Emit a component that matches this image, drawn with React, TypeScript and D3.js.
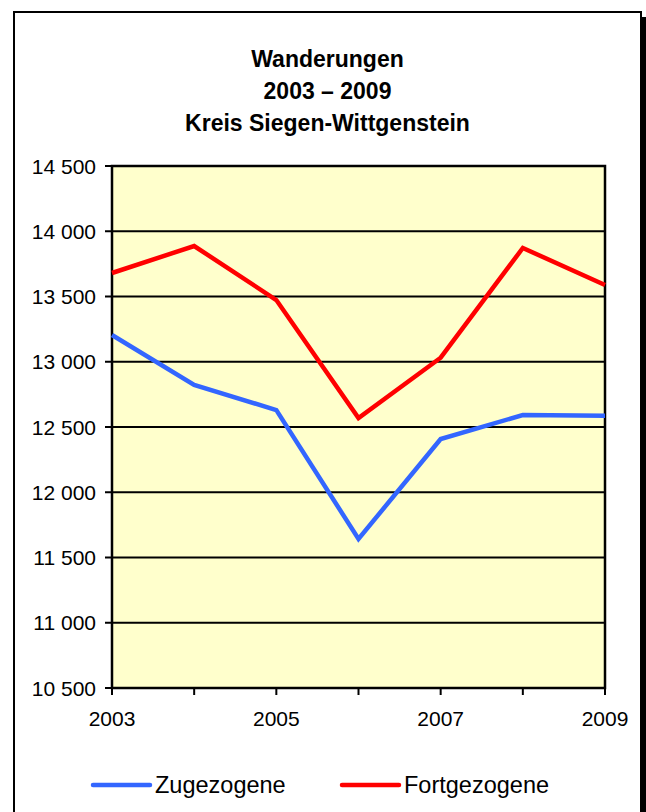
import * as d3 from "d3"

const years = [2003, 2004, 2005, 2006, 2007, 2008, 2009]
const zugezogene = [13205, 12822, 12630, 11642, 12408, 12592, 12587]
const fortgezogene = [13680, 13887, 13473, 12569, 13031, 13872, 13588]
const yTicks = [10500, 11000, 11500, 12000, 12500, 13000, 13500, 14000, 14500]
const xLabelYears = [2003, 2005, 2007, 2009]
const titleLines = ["Wanderungen", "2003 – 2009", "Kreis Siegen-Wittgenstein"]

const series = [
  { name: "Zugezogene", values: zugezogene, color: "#3366FF" },
  { name: "Fortgezogene", values: fortgezogene, color: "#FF0000" },
]

const W = 646
const H = 812
const plot = { left: 112, top: 166, right: 605, bottom: 688 }
const font = "Arial, 'Liberation Sans', sans-serif"

const fmt = (v: number) => d3.format(",")(v).replace(",", " ")

export default function App() {
  const x = d3.scaleLinear().domain([2003, 2009]).range([plot.left, plot.right])
  const y = d3.scaleLinear().domain([10500, 14500]).range([plot.bottom, plot.top])

  const line = d3
    .line<number>()
    .x((_, i) => x(years[i]))
    .y((d) => y(d))

  const legendX = [93, 342]

  return (
    <svg
      width={W}
      height={H}
      style={{ position: "absolute", left: 0, top: 0 }}
      fontFamily={font}
    >
      <rect x={0} y={0} width={W} height={H} fill="#fff" />
      {/* shadow + frame */}
      <rect x={19} y={17} width={627} height={H} fill="#000" />
      <rect x={14} y={12} width={627} height={H} fill="#fff" stroke="#000" strokeWidth={2} />

      {titleLines.map((t, i) => (
        <text
          key={t}
          x={327.5}
          y={66.5 + i * 32}
          textAnchor="middle"
          fontWeight="bold"
          fontSize={23}
        >
          {t}
        </text>
      ))}

      <rect
        x={plot.left}
        y={plot.top}
        width={plot.right - plot.left}
        height={plot.bottom - plot.top}
        fill="#FFFFCC"
      />
      {yTicks.map((t) => (
        <g key={t}>
          <line x1={105} x2={plot.right} y1={y(t)} y2={y(t)} stroke="#000" strokeWidth={2} />
          <text x={96} y={y(t) + 7.5} textAnchor="end" fontSize={21}>
            {fmt(t)}
          </text>
        </g>
      ))}
      {years.map((yr) => (
        <line key={yr} x1={x(yr)} x2={x(yr)} y1={plot.bottom} y2={plot.bottom + 7} stroke="#000" strokeWidth={2} />
      ))}
      {xLabelYears.map((yr) => (
        <text key={yr} x={x(yr)} y={726} textAnchor="middle" fontSize={21}>
          {yr}
        </text>
      ))}
      <rect
        x={plot.left}
        y={plot.top}
        width={plot.right - plot.left}
        height={plot.bottom - plot.top}
        fill="none"
        stroke="#000"
        strokeWidth={2.5}
      />

      {series.map((s) => (
        <path
          key={s.name}
          d={line(s.values) ?? ""}
          fill="none"
          stroke={s.color}
          strokeWidth={4.5}
          strokeLinejoin="miter"
        />
      ))}

      {series.map((s, i) => (
        <g key={s.name}>
          <line
            x1={legendX[i]}
            x2={legendX[i] + 57}
            y1={785}
            y2={785}
            stroke={s.color}
            strokeWidth={4.5}
            strokeLinecap="round"
          />
          <text x={legendX[i] + 62} y={793} fontSize={23.5}>
            {s.name}
          </text>
        </g>
      ))}
    </svg>
  )
}
